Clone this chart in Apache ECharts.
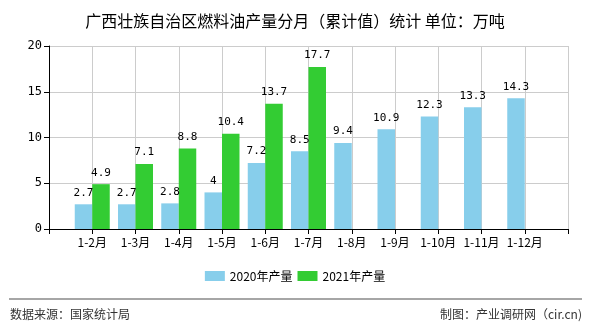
<!DOCTYPE html>
<html>
<head>
<meta charset="utf-8">
<script src="https://cdn.jsdelivr.net/npm/echarts@6/dist/echarts.min.js"></script>
<style>html,body{margin:0;padding:0;background:#fff;}#c{width:590px;height:330px;}</style>
</head>
<body>
<div id="c"></div>
<script>
var categories = ['1-2月','1-3月','1-4月','1-5月','1-6月','1-7月','1-8月','1-9月','1-10月','1-11月','1-12月'];
var values2020 = [2.7, 2.7, 2.8, 4, 7.2, 8.5, 9.4, 10.9, 12.3, 13.3, 14.3];
var values2021 = [4.9, 7.1, 8.8, 10.4, 13.7, 17.7];
var yTicks = [0, 5, 10, 15, 20];

var axisCats = [''].concat(categories).concat(['']);
var d2020 = [null].concat(values2020).concat([null]);
var d2021 = [null].concat(values2021);

var chart = echarts.init(document.getElementById('c'));
var labelFont = '"DejaVu Sans Mono", monospace';
chart.setOption({
  animation: false,
  backgroundColor: '#fff',
  title: {
    text: '广西壮族自治区燃料油产量分月（累计值）统计 单位：万吨',
    left: 'center', top: 8,
    textStyle: { fontSize: 16, fontWeight: 'normal', color: '#000', fontFamily: '"Noto Sans CJK SC", sans-serif' }
  },
  legend: {
    bottom: 43, left: 'center',
    itemWidth: 20, itemHeight: 10, itemGap: 5,
    icon: 'rect',
    textStyle: { fontSize: 12, color: '#000', fontFamily: '"Noto Sans CJK SC", sans-serif' },
    data: ['2020年产量', '2021年产量']
  },
  grid: { left: 49, right: 22, top: 46, bottom: 101, containLabel: false },
  xAxis: {
    type: 'category', boundaryGap: false, data: axisCats,
    axisLine: { lineStyle: { color: '#000' } },
    axisTick: { show: true, interval: 0, length: 5, lineStyle: { color: '#000' } },
    axisLabel: { interval: 0, color: '#000', fontSize: 12, margin: 7, fontFamily: '"Noto Sans CJK SC", sans-serif' },
    splitLine: { show: true, interval: 0, lineStyle: { color: '#ccc' } }
  },
  yAxis: {
    type: 'value', min: yTicks[0], max: yTicks[yTicks.length - 1], interval: 5,
    axisLine: { show: true, lineStyle: { color: '#000' } },
    axisTick: { show: true, length: 5, lineStyle: { color: '#000' } },
    axisLabel: { color: '#000', fontSize: 12, margin: 7, fontFamily: labelFont },
    splitLine: { show: true, lineStyle: { color: '#ccc' } }
  },
  series: [
    {
      name: '2020年产量', type: 'bar', data: d2020, barWidth: 17.5, barGap: '0%',
      itemStyle: { color: '#87CEEB' },
      label: { show: true, position: 'top', distance: 6, color: '#000', fontSize: 11, fontFamily: labelFont },
      emphasis: { disabled: true }
    },
    {
      name: '2021年产量', type: 'bar', data: d2021, barWidth: 17.5,
      itemStyle: { color: '#33CC33' },
      label: { show: true, position: 'top', distance: 6, color: '#000', fontSize: 11, fontFamily: labelFont },
      emphasis: { disabled: true }
    }
  ],
  graphic: [
    { type: 'line', shape: { x1: 9, y1: 299, x2: 582, y2: 299 }, style: { stroke: '#888', lineWidth: 1.5 } },
    { type: 'text', left: 10, top: 308, style: { text: '数据来源：国家统计局', fill: '#333', font: '12px "Noto Sans CJK SC", sans-serif' } },
    { type: 'text', right: 8, top: 308, style: { text: '制图：产业调研网（cir.cn)', fill: '#333', font: '12px "Noto Sans CJK SC", sans-serif' } }
  ]
});
</script>
</body>
</html>
